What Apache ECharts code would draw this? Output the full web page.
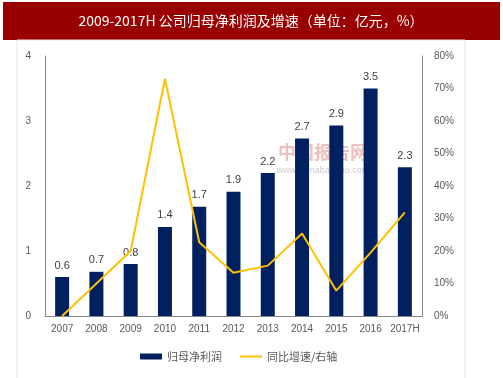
<!DOCTYPE html>
<html><head><meta charset="utf-8">
<script src="https://cdn.jsdelivr.net/npm/echarts@6/dist/echarts.min.js"></script>
<style>html,body{margin:0;padding:0;background:#fff}#c{width:503px;height:378px}</style>
</head><body><div id="c"></div>
<script>
const categories = ['2007','2008','2009','2010','2011','2012','2013','2014','2015','2016','2017H'];
const profit = [0.6, 0.68, 0.8, 1.37, 1.68, 1.91, 2.2, 2.73, 2.93, 3.5, 2.29];
const growth = [0, 10, 20, 73, 22.7, 13.3, 15.5, 25.4, 7.8, 19.5, 31.9];
const leftTicks = [0, 1, 2, 3, 4];
const rightTicks = [0, 10, 20, 30, 40, 50, 60, 70, 80];
const titleText = '2009-2017H 公司归母净利润及增速（单位：亿元，%）';
const seriesNames = ['归母净利润', '同比增速/右轴'];

const chart = echarts.init(document.getElementById('c'));
const axisColor = '#868686';
const labelColor = '#595959';
const legendText = {color: labelColor, fontSize: 11, fontFamily: '"Noto Sans CJK SC", sans-serif'};
chart.setOption({
  animation: false,
  graphic: [
    {type:'rect', shape:{x:3,y:2,width:497,height:38}, style:{fill:'#990000'}, z:0},
    {type:'rect', shape:{x:17,y:40,width:448,height:340}, style:{fill:'none', stroke:'#e4e4e4', lineWidth:1}, z:0},
    {type:'text', x:251, y:21, style:{text:titleText, fill:'#ffffff', font:'14px "Liberation Sans Narrow", "Noto Sans CJK SC", sans-serif', align:'center', verticalAlign:'middle'}, z:10},
    {type:'text', x:323, y:152, style:{text:'中国报告网', fill:'rgba(220,110,110,0.45)', font:'bold 18px "Noto Sans CJK SC", sans-serif', align:'center', verticalAlign:'middle'}, z:1},
    {type:'text', x:323, y:171, style:{text:'www.chinabaogao.com', fill:'rgba(150,150,150,0.5)', font:'9px "Liberation Sans", sans-serif', align:'center', verticalAlign:'middle'}, z:1}
  ],
  legend: [
    {left: 135, top: 346, itemWidth: 22, itemHeight: 6, textStyle: legendText,
     data: [{name: seriesNames[0], icon: 'rect'}]},
    {left: 235, top: 346, itemWidth: 22, itemHeight: 2, textStyle: legendText,
     data: [{name: seriesNames[1], icon: 'rect', itemStyle:{color:'#FFC000'}}]}
  ],
  grid: {left: 45, right: 81, top: 56, bottom: 62},
  xAxis: {
    type: 'category', data: categories,
    axisLine: {lineStyle: {color: axisColor}},
    axisTick: {show: false},
    axisLabel: {color: labelColor, fontSize: 10, margin: 8, interval: 0, fontFamily: '"Liberation Sans", sans-serif'}
  },
  yAxis: [
    {type: 'value', min: leftTicks[0], max: leftTicks[leftTicks.length-1], interval: 1,
     axisLine: {show: true, lineStyle: {color: axisColor}}, axisTick: {show: false}, splitLine: {show: false},
     axisLabel: {color: labelColor, fontSize: 10, margin: 14, fontFamily: '"Liberation Sans", sans-serif'}},
    {type: 'value', min: rightTicks[0], max: rightTicks[rightTicks.length-1], interval: 10,
     axisLine: {show: true, lineStyle: {color: axisColor}}, axisTick: {show: false}, splitLine: {show: false},
     axisLabel: {color: labelColor, fontSize: 10, margin: 12, formatter: v => v + '%', fontFamily: '"Liberation Sans", sans-serif'}}
  ],
  series: [
    {name: seriesNames[0], type: 'bar', data: profit, barWidth: 14, yAxisIndex: 0,
     itemStyle: {color: '#002060'},
     label: {show: true, position: 'top', distance: 6, color: '#404040', fontSize: 11, fontFamily: '"Liberation Sans", sans-serif', formatter: p => p.value.toFixed(1)}},
    {name: seriesNames[1], type: 'line', data: growth, yAxisIndex: 1, symbol: 'none', z: 5,
     lineStyle: {color: '#FFC000', width: 2}, itemStyle: {color: '#FFC000'}}
  ]
});
</script></body></html>
